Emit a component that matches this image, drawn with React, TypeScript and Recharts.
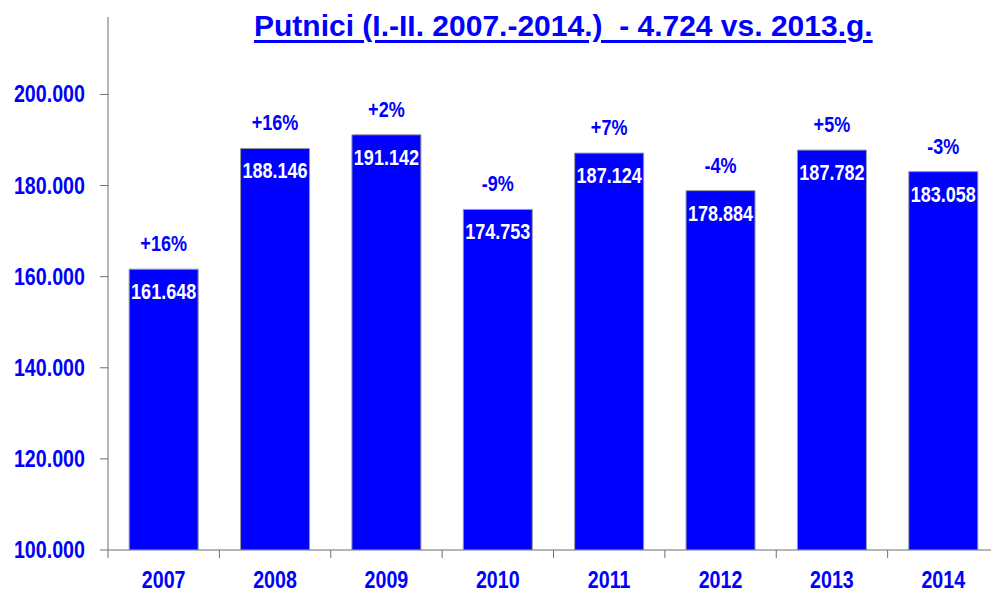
import { BarChart, Bar, XAxis, YAxis, LabelList } from 'recharts';

const years = ['2007', '2008', '2009', '2010', '2011', '2012', '2013', '2014'];
const passengers = [161648, 188146, 191142, 174753, 187124, 178884, 187782, 183058];
const changes = ['+16%', '+16%', '+2%', '-9%', '+7%', '-4%', '+5%', '-3%'];
const yTicks = [100000, 120000, 140000, 160000, 180000, 200000];

const data = years.map((year, i) => ({
    year,
    passengers: passengers[i],
    change: changes[i],
}));

const BLUE = '#0000FF';
const AXIS = '#6f6f6f';
const FONT = "'Liberation Sans', Arial, sans-serif";
const SQUEEZE = 0.82; // no narrow font installed, so squeeze Liberation Sans

const W = 1000;
const H = 590;
const LEFT = 108;
const RIGHT = 1;
const band = (W - LEFT - RIGHT) / years.length;

const fmt = (v: number) => String(v).replace(/\B(?=(\d{3})+(?!\d))/g, '.');

function NarrowText({ x, y, anchor, fill, size, children }: any) {
    return (
        <text
            transform={`translate(${x},${y}) scale(${SQUEEZE},1)`}
            textAnchor={anchor}
            fill={fill}
            fontFamily={FONT}
            fontWeight="bold"
            fontSize={size}
        >
            {children}
        </text>
    );
}

function YearTick(props: any) {
    const { x, y, payload } = props;
    const bx = x - band / 2;
    return (
        <g>
            <line x1={bx} y1={y - 6} x2={bx} y2={y + 2} stroke={AXIS} strokeWidth={1} />
            <NarrowText x={x} y={y + 32} anchor="middle" fill={BLUE} size={24}>
                {payload.value}
            </NarrowText>
        </g>
    );
}

function ValueTick(props: any) {
    const { x, y, payload } = props;
    return (
        <NarrowText x={x} y={y + 8} anchor="end" fill={BLUE} size={24}>
            {fmt(payload.value)}
        </NarrowText>
    );
}

function InsideLabel(props: any) {
    const { x, y, width, value } = props;
    return (
        <NarrowText x={x + width / 2} y={y + 30} anchor="middle" fill="#fff" size={22}>
            {fmt(Number(value))}
        </NarrowText>
    );
}

function ChangeLabel(props: any) {
    const { x, y, width, value } = props;
    return (
        <NarrowText x={x + width / 2} y={y - 18} anchor="middle" fill={BLUE} size={22}>
            {value}
        </NarrowText>
    );
}

export default function App() {
    return (
        <div style={{ position: 'absolute', left: 0, top: 0, width: 991, height: 590, overflow: 'hidden', background: '#fff' }}>
            <div
                style={{
                    position: 'absolute',
                    top: 9,
                    left: 254,
                    fontFamily: FONT,
                    fontWeight: 'bold',
                    fontSize: 30,
                    color: BLUE,
                    textDecoration: 'underline',
                    textDecorationThickness: 3,
                    textUnderlineOffset: 4,
                    whiteSpace: 'pre',
                }}
            >
                {'Putnici (I.-II. 2007.-2014.)  - 4.724 vs. 2013.g.'}
            </div>
            <BarChart
                width={W}
                height={H}
                data={data}
                margin={{ top: 17, right: RIGHT, left: 0, bottom: 0 }}
                barCategoryGap="19%"
            >
                <XAxis
                    dataKey="year"
                    height={40}
                    stroke={AXIS}
                    tickLine={false}
                    tickSize={0}
                    tickMargin={6}
                    tick={<YearTick />}
                    interval={0}
                />
                <YAxis
                    width={LEFT}
                    domain={[100000, 217000]}
                    ticks={yTicks}
                    allowDataOverflow
                    stroke={AXIS}
                    tickSize={8}
                    tickMargin={15}
                    tick={<ValueTick />}
                />
                <Bar dataKey="passengers" fill={BLUE} stroke="#9a9a9a" strokeWidth={1} isAnimationActive={false}>
                    <LabelList dataKey="passengers" content={<InsideLabel />} />
                    <LabelList dataKey="change" content={<ChangeLabel />} />
                </Bar>
            </BarChart>
        </div>
    );
}
